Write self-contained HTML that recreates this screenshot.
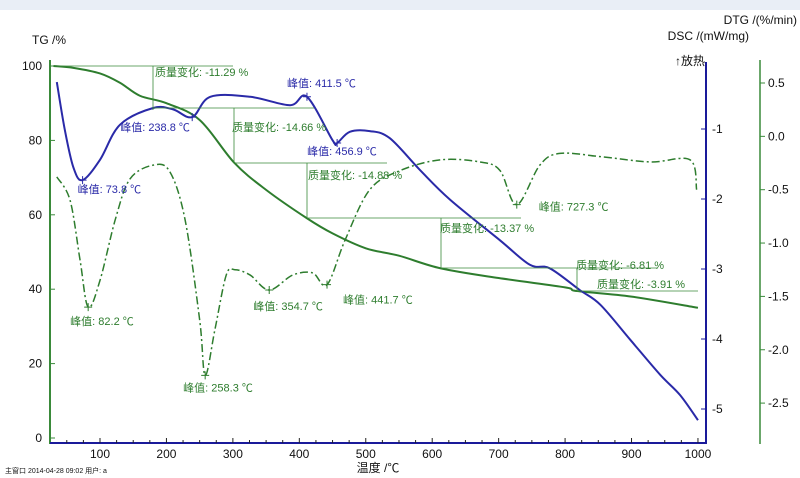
<!DOCTYPE html>
<html><head><meta charset="utf-8"><style>
body{margin:0;background:#fff;}
svg{display:block;font-family:"Liberation Sans","Noto Sans CJK SC",sans-serif;}
</style></head><body>
<svg id="chart" width="800" height="478" viewBox="0 0 800 478">
<rect x="0" y="0" width="800" height="10" fill="#e9eef6"/>
<g id="axes"></g><g id="series"></g><g id="annot"></g>
</svg>
<script>
const tgT=[30,60,100,130,160,200,250,302,350,412,450,500,550,613,700,800,818,900,1000];
const tgV=[100,99.5,98,95.5,92,90,85.5,74,66.7,59,55,51,49,45.6,43,40.5,39.5,38,35];
const dscT=[35,47,60,73.8,100,130,180,210,238.8,266,326,386,411.5,450,456.9,476,506,536,582,627,702,747,777,822,853,898,943,973,1000];
const dscV=[-0.33,-1.01,-1.55,-1.73,-1.44,-0.94,-0.7,-0.72,-0.83,-0.54,-0.54,-0.66,-0.54,-1.16,-1.2,-1.04,-1.03,-1.13,-1.59,-2.01,-2.59,-2.94,-2.99,-3.3,-3.51,-4.01,-4.51,-4.8,-5.16];
const dtgT=[35,55,70,82.2,100,123,145,180,205,228,250,258.3,273,290,303,326,354.7,390,420,441.7,469,506,552,612,672,702,727.3,762,792,853,928,988,998];
const dtgV=[-0.38,-0.6,-1.16,-1.6,-1.35,-0.78,-0.4,-0.27,-0.33,-0.78,-1.72,-2.24,-1.81,-1.3,-1.25,-1.3,-1.44,-1.3,-1.28,-1.39,-0.97,-0.5,-0.32,-0.22,-0.24,-0.32,-0.64,-0.27,-0.16,-0.19,-0.24,-0.22,-0.5];
const xTicks=[100,200,300,400,500,600,700,800,900,1000];
const tgTicks=[0,20,40,60,80,100];
const dscTicks=[-1,-2,-3,-4,-5];
const dtgTicks=[0.5,0.0,-0.5,-1.0,-1.5,-2.0,-2.5];
const peakDsc=[73.8,238.8,411.5,456.9];
const peakDtg=[82.2,258.3,354.7,441.7,727.3];

const X=t=>100+(t-100)*0.6644;
const YT=v=>438-v*3.72;
const YD=v=>129-(v+1)*70;
const YG=v=>83+(0.5-v)*106.7;
const NS='http://www.w3.org/2000/svg';
function mk(tag,at,parent,txt){const e=document.createElementNS(NS,tag);for(const k in at)e.setAttribute(k,at[k]);if(txt!==undefined)e.textContent=txt;parent.appendChild(e);return e;}
const ax=document.getElementById('axes'),se=document.getElementById('series'),an=document.getElementById('annot');
let e;
e=mk('line',{x1:50,y1:60,x2:50,y2:444,stroke:'#3a8a3a','stroke-width':2},ax);

e=mk('line',{x1:50,y1:443,x2:706,y2:443,stroke:'#1a1a9a','stroke-width':2},ax);

e=mk('line',{x1:706,y1:62,x2:706,y2:444,stroke:'#1a1a9a','stroke-width':2},ax);

e=mk('line',{x1:760,y1:60,x2:760,y2:444,stroke:'#3a8a3a','stroke-width':1.5},ax);

for(let t=50;t<=1000;t+=25){mk('line',{x1:X(t),y1:443,x2:X(t),y2:t%100?440:438,stroke:'#222'},ax);}
xTicks.forEach(t=>{e=mk('text',{x:X(t),y:458,'font-size':12,'text-anchor':'middle',fill:'#111'},ax,t);
});
tgTicks.forEach(v=>{mk('line',{x1:50,y1:YT(v),x2:55,y2:YT(v),stroke:'#3a8a3a'},ax);
e=mk('text',{x:42,y:YT(v)+4,'font-size':12,'text-anchor':'end',fill:'#111'},ax,v);
});
dscTicks.forEach(v=>{mk('line',{x1:706,y1:YD(v),x2:701,y2:YD(v),stroke:'#1a1a9a'},ax);
e=mk('text',{x:712,y:YD(v)+4,'font-size':12,fill:'#111'},ax,v);
});
dtgTicks.forEach(v=>{mk('line',{x1:760,y1:YG(v),x2:765,y2:YG(v),stroke:'#3a8a3a'},ax);
e=mk('text',{x:768,y:YG(v)+4,'font-size':12,fill:'#111'},ax,v.toFixed(1));
});
const titles=[[32,44,'TG /%','tg-axis-title','start'],[797,24,'DTG /(%/min)','dtg-axis-title','end'],[749,40,'DSC /(mW/mg)','dsc-axis-title','end'],[705,65,'↑放热','exo-label','end'],[378,472,'温度 /℃','x-axis-title','middle'],[5,473,'主窗口  2014-04-28 09:02  用户: a','footer-info','start']];
titles.forEach(a=>{e=mk('text',{x:a[0],y:a[1],'font-size':a[3]=='footer-info'?7:12,'text-anchor':a[4],fill:'#111'},ax,a[2]);
});
function smooth(T,V,Y){const p=T.map((t,i)=>[X(t),Y(V[i])]);let d='M'+p[0];for(let i=0;i<p.length-1;i++){const a=p[i-1]||p[i],b=p[i],c=p[i+1],n=p[i+2]||c;
d+=' C'+(b[0]+(c[0]-a[0])/6)+','+(b[1]+(c[1]-a[1])/6)+' '+(c[0]-(n[0]-b[0])/6)+','+(c[1]-(n[1]-b[1])/6)+' '+c[0]+','+c[1];}return d;}
e=mk('path',{d:smooth(dtgT,dtgV,YG),fill:'none',stroke:'#2e7d2e','stroke-width':1.5,'stroke-dasharray':'8,3,2,3'},se);

e=mk('path',{d:smooth(tgT,tgV,YT),fill:'none',stroke:'#2e7d2e','stroke-width':2},se);

e=mk('path',{d:smooth(dscT,dscV,YD),fill:'none',stroke:'#2a2aa8','stroke-width':2},se);

function interp(T,V,t){for(let i=0;i<T.length-1;i++)if(t>=T[i]&&t<=T[i+1])return V[i]+(V[i+1]-V[i])*(t-T[i])/(T[i+1]-T[i]);return V[V.length-1];}
const dscLab=[[-5,13],[-72,14],[-20,-10],[-30,12]];
peakDsc.forEach((t,i)=>{const x=X(t),y=YD(interp(dscT,dscV,t));
mk('path',{d:`M${x-4},${y}h8M${x},${y-4}v8`,stroke:'#2a2aa8'},an);
e=mk('text',{x:x+dscLab[i][0],y:y+dscLab[i][1],'font-size':11,fill:'#2a2aa8'},an,'峰值: '+t+' ℃');
});
const dtgLab=[[-18,18],[-22,16],[-16,20],[16,19],[22,6]];
peakDtg.forEach((t,i)=>{const x=X(t),y=YG(interp(dtgT,dtgV,t));
mk('path',{d:`M${x-4},${y}h8M${x},${y-4}v8`,stroke:'#2e7d2e'},an);
e=mk('text',{x:x+dtgLab[i][0],y:y+dtgLab[i][1],'font-size':11,fill:'#2e7d2e'},an,'峰值: '+t+' ℃');
});
const mc=[[66,153,110,'-11.29',155,76,57],[108,234,163,'-14.66',232,131,153],[163,307,218,'-14.88',308,179,234],[218,441,268,'-13.37',440,232,307],[268,577,291,'-6.81',576,269,441],[291,698,308,'-3.91',597,288,577]];
mc.forEach(m=>{mk('line',{x1:m[6],y1:m[0],x2:m[1]+(m[1]==698?0:80),y2:m[0],stroke:'#3a8a3a','stroke-width':0.8},an);
if(m[1]!=698)mk('line',{x1:m[1],y1:m[0],x2:m[1],y2:m[2],stroke:'#3a8a3a','stroke-width':0.8},an);
e=mk('text',{x:m[4],y:m[5],'font-size':11,fill:'#2e7d2e'},an,'质量变化: '+m[3]+' %');
});
</script>
</body></html>
